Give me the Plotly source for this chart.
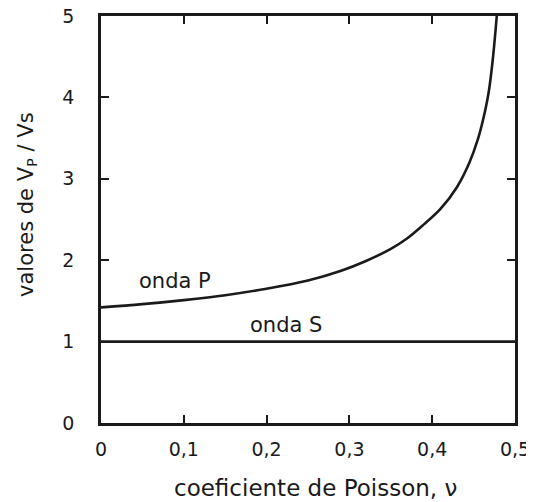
import plotly.graph_objects as go

# Poisson ratio (x) and Vp/Vs values
nu_p = [0, 0.05, 0.1, 0.15, 0.2, 0.25, 0.29, 0.32, 0.35, 0.37, 0.39, 0.41, 0.43, 0.445, 0.455, 0.462, 0.468, 0.473, 0.478]
vp_ratio = [1.42, 1.46, 1.51, 1.57, 1.65, 1.75, 1.87, 1.99, 2.14, 2.27, 2.44, 2.63, 2.9, 3.2, 3.48, 3.75, 4.05, 4.45, 5.0]

nu_s = [0, 0.5]
vs_ratio = [1.0, 1.0]

x_ticks = [0, 0.1, 0.2, 0.3, 0.4, 0.5]
x_tick_text = ["0", "0,1", "0,2", "0,3", "0,4", "0,5"]
y_ticks = [0, 1, 2, 3, 4, 5]

labels = ["onda P", "onda S"]
label_x = [0.089, 0.223]
label_y = [1.745, 1.20]

x_title = "coeficiente de Poisson, ν"
y_title = "valores de V<sub>P</sub> / Vs"

FONT = "DejaVu Sans"
INK = "#1a1a1a"

fig = go.Figure()
fig.add_trace(go.Scatter(x=nu_p, y=vp_ratio, mode="lines",
                         line=dict(color=INK, width=2.6, shape="spline", smoothing=1.0), showlegend=False))
fig.add_trace(go.Scatter(x=nu_s, y=vs_ratio, mode="lines", line=dict(color=INK, width=2.6), showlegend=False))
for t, lx, ly in zip(labels, label_x, label_y):
    fig.add_annotation(x=lx, y=ly, text=t, showarrow=False,
                       font=dict(family=FONT, size=21, color=INK))

# axis titles placed as annotations to match the original's off-centre placement
fig.add_annotation(xref="paper", yref="paper", x=0.517, y=-0.160, text=x_title, showarrow=False,
                   xanchor="center", yanchor="middle", font=dict(family=FONT, size=23, color=INK))
fig.add_annotation(xref="paper", yref="paper", x=-0.179, y=0.538, text=y_title, showarrow=False,
                   textangle=-90, xanchor="center", yanchor="middle", font=dict(family=FONT, size=21, color=INK))

fig.update_layout(
    width=534, height=502,
    margin=dict(l=93, r=27, t=8, b=87),
    paper_bgcolor="white", plot_bgcolor="white",
    font=dict(family=FONT, color=INK),
)
fig.update_xaxes(
    range=[0, 0.5], tickvals=x_ticks, ticktext=x_tick_text,
    ticks="inside", ticklen=8, tickwidth=1.6, tickcolor=INK,
    showline=True, linewidth=2.6, linecolor=INK, mirror="ticks",
    showgrid=False, zeroline=False, automargin=False, ticklabeloverflow="allow",
    tickfont=dict(family=FONT, size=19, color=INK), ticklabelstandoff=7,
)
fig.update_yaxes(
    range=[0, 5], tickvals=y_ticks,
    ticks="inside", ticklen=8, tickwidth=1.6, tickcolor=INK,
    showline=True, linewidth=2.6, linecolor=INK, mirror="ticks",
    showgrid=False, zeroline=False, automargin=False, ticklabeloverflow="allow",
    tickfont=dict(family=FONT, size=19, color=INK), ticklabelstandoff=20,
)

fig.write_html("out.html")
